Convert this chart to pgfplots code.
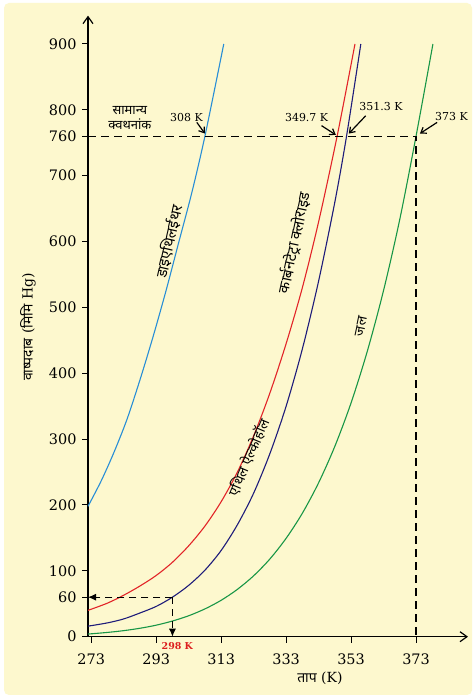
\documentclass[border=0pt]{standalone}
\usepackage{pgfplots}
\pgfplotsset{compat=1.18}
\usepackage{fontspec}
\setmainfont{DejaVu Serif}
\newfontfamily\hindi[Script=Devanagari]{Noto Sans}
\usetikzlibrary{arrows.meta}
\definecolor{bgy}{RGB}{253,248,206}
\definecolor{ether}{RGB}{40,142,214}
\definecolor{ccl}{RGB}{226,36,40}
\definecolor{etoh}{RGB}{30,28,122}
\definecolor{water}{RGB}{24,150,70}
\definecolor{redlab}{RGB}{220,30,30}
\begin{document}
\begin{tikzpicture}[x=1bp,y=1bp]
\fill[white] (0,0) rectangle (475,698);
\fill[bgy, rounded corners=5bp] (4,3) rectangle (472,695);
\begin{axis}[
  at={(88bp,61.3bp)}, anchor=south west, scale only axis,
  width=380bp, height=621bp,
  xmin=272, xmax=389, ymin=0, ymax=943,
  axis lines=left,
  axis line style={line width=1.2bp, -{Straight Barb[length=7bp,width=10bp,line width=1.2bp]}},
  xtick={273,293,313,333,353,373},
  ytick={0,60,100,200,300,400,500,600,700,760,800,900},
  tick align=outside, major tick length=6bp,
  tick style={line width=1bp, black},
  /pgf/number format/assume math mode=true,
  ticklabel style={font=\fontsize{14.5}{15}\selectfont},
  xticklabel style={yshift=-8bp},
  yticklabel style={xshift=-2bp},
  clip=false,
]
% diethyl ether
\addplot[ether, line width=1.1bp, smooth] coordinates {
(272,198)(276,236)(280,280)(284,330)(288,390)(292,455)(296,525)(300,600)(304,675)(308,760)(313.8,900)};
% carbon tetrachloride
\addplot[ccl, line width=1.1bp, smooth] coordinates {
(272,40)(278,51)(283,63)(288,77)(293,93)(298,113)(303,138)(308,168)(313,205)(318,250)(323,305)(328,370)(333,445)(338,530)(343,630)(348.7,760)(354.2,900)};
% ethyl alcohol
\addplot[etoh, line width=1.1bp, smooth] coordinates {
(272,16)(278,21)(283,27)(288,36)(293,46)(298,60)(303,78)(308,101)(313,131)(318,170)(323,218)(328,278)(333,350)(338,437)(343,540)(348,660)(351.6,760)(356,900)};
% water
\addplot[water, line width=1.1bp, smooth] coordinates {
(272,4)(278,6.5)(283,9.2)(288,12.8)(293,17.5)(298,23.8)(303,31.8)(308,42.2)(313,55.3)(318,71.9)(323,92.5)(328,118)(333,149.4)(338,187.5)(343,233.7)(348,289.1)(353,355.1)(358,433.6)(363,525.8)(368,633.9)(373,760)(378.2,900)};
% dashed guides
\addplot[black, line width=1.1bp, dash pattern=on 8bp off 5bp] coordinates {(272,760)(373,760)(373,0)};
\addplot[black, line width=1.1bp, dash pattern=on 7bp off 5bp, -{Latex[length=8bp,width=7bp]}] coordinates {(298,60)(272,60)};
\addplot[black, line width=1.1bp, dash pattern=on 7bp off 5bp, -{Latex[length=8bp,width=7bp]}] coordinates {(298,60)(298,0)};
% boiling point annotations
\node[font=\fontsize{11}{12}\selectfont] at (axis cs:302.3,789) {308 K};
\draw[line width=1.2bp, -{Straight Barb[length=5bp,width=7bp]}] (axis cs:305.5,781) -- (axis cs:308,764);
\node[font=\fontsize{11}{12}\selectfont] at (axis cs:339.3,788) {349.7 K};
\draw[line width=1.2bp, -{Straight Barb[length=5bp,width=7bp]}] (axis cs:343.9,776) -- (axis cs:348.3,762);
\node[font=\fontsize{11}{12}\selectfont] at (axis cs:362.2,804.5) {351.3 K};
\draw[line width=1.2bp, -{Straight Barb[length=5bp,width=7bp]}] (axis cs:357.5,791) -- (axis cs:352.3,764);
\node[font=\fontsize{11}{12}\selectfont] at (axis cs:383.9,790) {373 K};
\draw[line width=1.2bp, -{Straight Barb[length=5bp,width=7bp]}] (axis cs:379.5,781) -- (axis cs:374.2,764);
\node[font=\fontsize{9.5}{10}\selectfont\bfseries, text=redlab] at (axis cs:299.5,-14) {298 K};
% texts
\node[align=center, font=\hindi\fontsize{13}{15}\selectfont, inner sep=0pt] at (axis cs:284.9,787.5) {सामान्य\\क्वथनांक};
\node[rotate=77, font=\hindi\fontsize{15}{16}\selectfont] at (axis cs:297,600) {डाइएथिलईथर};
\node[rotate=78, font=\hindi\fontsize{15}{16}\selectfont] at (axis cs:335.6,598) {कार्बनटेट्रा क्लोराइड};
\node[rotate=67, font=\hindi\fontsize{14}{16}\selectfont, inner sep=1pt] at (axis cs:321.6,272) {एथिल ऐल्कोहॉल};
\node[rotate=78, font=\hindi\fontsize{14}{16}\selectfont] at (axis cs:356.2,471) {जल};
\node[rotate=90, font=\fontsize{14}{15}\selectfont] at (axis cs:253.5,470) {{\hindi वाष्पदाब} ({\hindi मिमि} Hg)};
\node[font=\fontsize{14}{15}\selectfont] at (axis cs:343.4,-63) {{\hindi ताप} (K)};
\end{axis}
\end{tikzpicture}
\end{document}
